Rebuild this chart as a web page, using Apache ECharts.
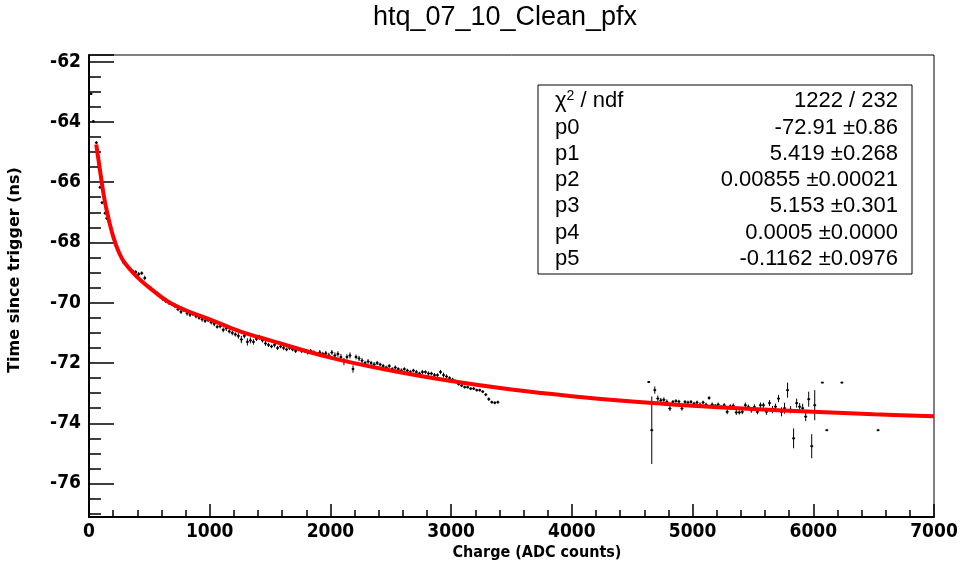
<!DOCTYPE html>
<html>
<head>
<meta charset="utf-8">
<script src="https://cdn.jsdelivr.net/npm/echarts@6/dist/echarts.min.js"></script>
<style>
html,body{margin:0;padding:0;background:#fff;}
#chart{width:962px;height:569px;}
</style>
</head>
<body>
<div id="chart"></div>
<script>
// ---- data ----
const chartTitle = 'htq_07_10_Clean_pfx';
const xTitle = 'Charge (ADC counts)';
const yTitle = 'Time since trigger (ns)';
const binHalfWidth = 12.5;

// early (steep) points
const chargeEarly = [17, 36, 61, 80, 91, 108, 133, 147, 162, 187, 212, 237, 262, 287, 312, 337, 362];
const timeEarly   = [-63.07, -63.98, -64.69, -65.51, -66.17, -66.68, -67.03, -67.20, -67.30, -67.65, -67.95, -68.25, -68.45, -68.67, -68.75, -68.85, -68.95];
const errEarly    = [0.04, 0.04, 0.05, 0.05, 0.05, 0.05, 0.05, 0.05, 0.05, 0.05, 0.05, 0.05, 0.05, 0.05, 0.05, 0.05, 0.05];

// dense band 387 .. 3387
const chargeMid = [387,412,437,462,487,512,537,562,587,612,
  637,662,687,712,737,762,787,812,837,862,
  887,912,937,962,987,1012,1037,1062,1087,1112,
  1137,1162,1187,1212,1237,1262,1287,1312,1337,1362,
  1387,1412,1437,1462,1487,1512,1537,1562,1587,1612,
  1637,1662,1687,1712,1737,1762,1787,1812,1837,1862,
  1887,1912,1937,1962,1987,2012,2037,2062,2087,2112,
  2137,2162,2187,2212,2237,2262,2287,2312,2337,2362,
  2387,2412,2437,2462,2487,2512,2537,2562,2587,2612,
  2637,2662,2687,2712,2737,2762,2787,2812,2837,2862,
  2887,2912,2937,2962,2987,3012,3037,3062,3087,3112,
  3137,3162,3187,3212,3237,3262,3287,3312,3337,3362,
  3387];
const timeMid = [-68.98,-69.05,-69.02,-69.18,-69.45,-69.52,-69.60,-69.68,-69.78,-69.88,
  -69.95,-70.00,-70.05,-70.10,-70.22,-70.30,-70.25,-70.35,-70.40,-70.38,
  -70.45,-70.50,-70.55,-70.60,-70.58,-70.65,-70.70,-70.80,-70.78,-70.90,
  -70.85,-70.95,-71.00,-71.05,-71.10,-71.22,-71.10,-71.30,-71.25,-71.30,
  -71.20,-71.15,-71.25,-71.35,-71.40,-71.45,-71.40,-71.50,-71.45,-71.50,
  -71.55,-71.50,-71.55,-71.60,-71.55,-71.60,-71.60,-71.65,-71.60,-71.65,
  -71.70,-71.65,-71.70,-71.68,-71.75,-71.65,-71.75,-71.70,-71.80,-71.95,
  -71.80,-71.75,-72.20,-71.80,-71.85,-71.92,-72.00,-71.95,-72.00,-72.05,
  -72.00,-72.05,-72.10,-72.15,-72.10,-72.20,-72.15,-72.20,-72.25,-72.20,
  -72.25,-72.30,-72.25,-72.30,-72.35,-72.30,-72.30,-72.35,-72.35,-72.40,
  -72.40,-72.30,-72.40,-72.45,-72.50,-72.55,-72.60,-72.70,-72.75,-72.80,
  -72.80,-72.85,-72.85,-72.90,-72.90,-72.95,-73.05,-73.20,-73.30,-73.32,
  -73.30];
const errMid = [0.06,0.07,0.06,0.08,0.06,0.07,0.06,0.06,0.07,0.06,
  0.06,0.07,0.06,0.08,0.06,0.07,0.06,0.08,0.07,0.06,
  0.07,0.06,0.08,0.07,0.06,0.07,0.08,0.06,0.07,0.08,
  0.09,0.07,0.08,0.07,0.09,0.12,0.08,0.12,0.10,0.09,
  0.07,0.08,0.07,0.08,0.07,0.06,0.08,0.07,0.06,0.07,
  0.06,0.07,0.06,0.07,0.06,0.07,0.06,0.07,0.06,0.07,
  0.07,0.08,0.07,0.08,0.09,0.08,0.10,0.09,0.10,0.12,
  0.09,0.10,0.12,0.08,0.09,0.08,0.07,0.08,0.07,0.08,
  0.07,0.06,0.07,0.06,0.07,0.06,0.07,0.06,0.07,0.06,
  0.06,0.07,0.06,0.07,0.06,0.07,0.06,0.07,0.06,0.07,
  0.06,0.07,0.08,0.07,0.06,0.06,0.05,0.05,0.05,0.05,
  0.05,0.05,0.05,0.05,0.05,0.05,0.05,0.06,0.05,0.05,
  0.05];

// high-charge cluster
const chargeHigh = [4637,4662,4687,4712,4737,4762,4787,4812,4837,4862,
  4887,4912,4937,4962,4987,5012,5037,5062,5087,5112,
  5137,5162,5187,5212,5237,5262,5287,5312,5337,5362,
  5387,5412,5437,5462,5487,5512,5537,5562,5587,5612,
  5637,5662,5687,5712,5737,5762,5787,5812,5837,5862,
  5887,5912,5937,5962,5987,6012,
  6075,6112,6237,6537];
const timeHigh = [-72.63,-74.23,-72.90,-73.18,-73.24,-73.22,-73.29,-73.51,-73.29,-73.26,
  -73.28,-73.51,-73.29,-73.31,-73.29,-73.35,-73.31,-73.38,-73.31,-73.38,
  -73.16,-73.38,-73.42,-73.38,-73.46,-73.40,-73.62,-73.44,-73.42,-73.64,
  -73.64,-73.62,-73.40,-73.46,-73.57,-73.46,-73.62,-73.40,-73.40,-73.62,
  -73.33,-73.55,-73.45,-73.18,-73.62,-73.50,-72.90,-73.55,-74.50,-73.33,
  -73.45,-73.50,-73.78,-73.20,-74.76,-73.40,
  -72.65,-74.23,-72.65,-74.23];
const errHigh = [0,1.12,0.12,0.10,0.08,0.08,0.08,0.08,0.06,0.06,
  0.06,0.07,0.06,0.06,0.06,0.06,0.06,0.07,0.06,0.06,
  0.06,0.07,0.06,0.07,0.07,0.07,0.08,0.07,0.08,0.08,
  0.07,0.08,0.09,0.08,0.08,0.09,0.08,0.09,0.08,0.10,
  0.10,0.12,0.10,0.12,0.15,0.18,0.25,0.12,0.33,0.15,
  0.12,0.15,0.15,0.25,0.40,0.50,
  0,0,0,0];

// fit curve (red)
const fitCharge = [60, 80, 100, 125, 150, 200, 250, 300, 400, 500, 650, 800, 1000, 1250, 1500, 2000, 2500, 3000, 3500, 4000, 4500, 5000, 5500, 6000, 6500, 7000];
const fitTime   = [-64.75, -65.30, -65.85, -66.50, -67.00, -67.80, -68.35, -68.70, -69.15, -69.50, -69.95, -70.25, -70.55, -70.95, -71.25, -71.82, -72.25, -72.60, -72.88, -73.10, -73.28, -73.42, -73.53, -73.62, -73.70, -73.77];

// stats box
const statNames  = ['p0', 'p1', 'p2', 'p3', 'p4', 'p5'];
const statValues = ['-72.91 \u00b10.86', '5.419 \u00b10.268', '0.00855 \u00b10.00021', '5.153 \u00b10.301', '0.0005 \u00b10.0000', '-0.1162 \u00b10.0976'];
const chi2Text = '1222 / 232';

// ---- build ----
const points = [];
[[chargeEarly, timeEarly, errEarly], [chargeMid, timeMid, errMid], [chargeHigh, timeHigh, errHigh]].forEach(([xs, ys, es]) => {
  xs.forEach((x, i) => points.push([x, ys[i], es[i]]));
});
const fitData = fitCharge.map((x, i) => [x, fitTime[i]]);

const tickFont = 'DejaVu Sans Condensed';
const chart = echarts.init(document.getElementById('chart'), null, {renderer: 'canvas'});

const graphics = [
  {type: 'text', style: {text: chartTitle, font: '27px "Liberation Sans"', fill: '#000', textAlign: 'center', textVerticalAlign: 'middle'}, x: 505, y: 18},
  {type: 'text', style: {text: xTitle, font: 'bold 16px "DejaVu Sans Condensed"', fill: '#000', textAlign: 'center', textVerticalAlign: 'middle'}, x: 537, y: 553},
  {type: 'text', style: {text: yTitle, font: 'bold 16px "DejaVu Sans"', fill: '#000', textAlign: 'center', textVerticalAlign: 'middle'}, x: 15, y: 270, rotation: Math.PI / 2},
  {type: 'rect', shape: {x: 538, y: 85, width: 374, height: 189}, style: {fill: '#fff', stroke: '#000', lineWidth: 1}, z: 100},
  {type: 'text', z: 101, style: {text: '{a|\u03c7}{s|2}{a| / ndf}', rich: {a: {font: '22px "Liberation Sans"', fill: '#000'}, s: {font: '14px "Liberation Sans"', fill: '#000', verticalAlign: 'top', padding: [0,0,10,0]}}, textVerticalAlign: 'middle'}, x: 555, y: 101},
  {type: 'text', z: 101, style: {text: chi2Text, font: '22px "Liberation Sans"', fill: '#000', textAlign: 'right', textVerticalAlign: 'middle'}, x: 898, y: 101}
];
statNames.forEach((n, i) => {
  const y = 127.5 + i * 26.3;
  graphics.push({type: 'text', z: 101, style: {text: n, font: '22px "Liberation Sans"', fill: '#000', textVerticalAlign: 'middle'}, x: 555, y: y});
  graphics.push({type: 'text', z: 101, style: {text: statValues[i], font: '22px "Liberation Sans"', fill: '#000', textAlign: 'right', textVerticalAlign: 'middle'}, x: 898, y: y});
});

const option = {
  backgroundColor: '#fff',
  animation: false,
  grid: {left: 89, right: 28, top: 55, bottom: 52, show: true, borderColor: '#000', borderWidth: 1, backgroundColor: 'transparent'},
  xAxis: {
    type: 'value', min: 0, max: 7000, interval: 1000,
    axisLine: {show: true, onZero: false, lineStyle: {color: '#000', width: 2}},
    axisTick: {show: true, inside: true, length: 13, lineStyle: {color: '#000', width: 1.5}},
    minorTick: {show: true, splitNumber: 5, length: 7, lineStyle: {color: '#000', width: 1.5}},
    splitLine: {show: false}, minorSplitLine: {show: false},
    axisLabel: {color: '#000', fontFamily: tickFont, fontWeight: 'bold', fontSize: 19, margin: 6, formatter: v => String(v)}
  },
  yAxis: {
    type: 'value', min: -77.11, max: -61.78, splitNumber: 8,
    axisLine: {show: true, onZero: false, lineStyle: {color: '#000', width: 2}},
    axisTick: {show: true, inside: true, length: 25, lineStyle: {color: '#000', width: 1.5}},
    minorTick: {show: true, splitNumber: 4, length: 12, lineStyle: {color: '#000', width: 1.5}},
    splitLine: {show: false}, minorSplitLine: {show: false},
    axisLabel: {color: '#000', fontFamily: tickFont, fontWeight: 'bold', fontSize: 19, margin: 8, showMinLabel: false, showMaxLabel: false, formatter: v => String(v)}
  },
  series: [
    {
      type: 'custom', clip: true, z: 2,
      encode: {x: 0, y: 1},
      data: points,
      renderItem: function (params, api) {
        const x = api.value(0), y = api.value(1), e = api.value(2);
        const c = api.coord([x, y]);
        const t = api.coord([x, y + e]);
        const b = api.coord([x, y - e]);
        const l = api.coord([x - binHalfWidth, y]);
        const r = api.coord([x + binHalfWidth, y]);
        const st = {stroke: '#000', lineWidth: 1};
        const kids = [
          {type: 'line', shape: {x1: l[0], y1: c[1], x2: r[0], y2: c[1]}, style: st},
          {type: 'rect', shape: {x: c[0] - 1, y: c[1] - 1, width: 2, height: 2}, style: {fill: '#000'}}
        ];
        if (e > 0) kids.push({type: 'line', shape: {x1: c[0], y1: t[1], x2: c[0], y2: b[1]}, style: st});
        return {type: 'group', children: kids};
      }
    },
    {
      type: 'line', data: fitData, smooth: 0.4, showSymbol: false, symbol: 'none', z: 5,
      lineStyle: {color: '#ff0000', width: 4}
    }
  ],
  graphic: graphics
};
chart.setOption(option);
</script>
</body>
</html>
